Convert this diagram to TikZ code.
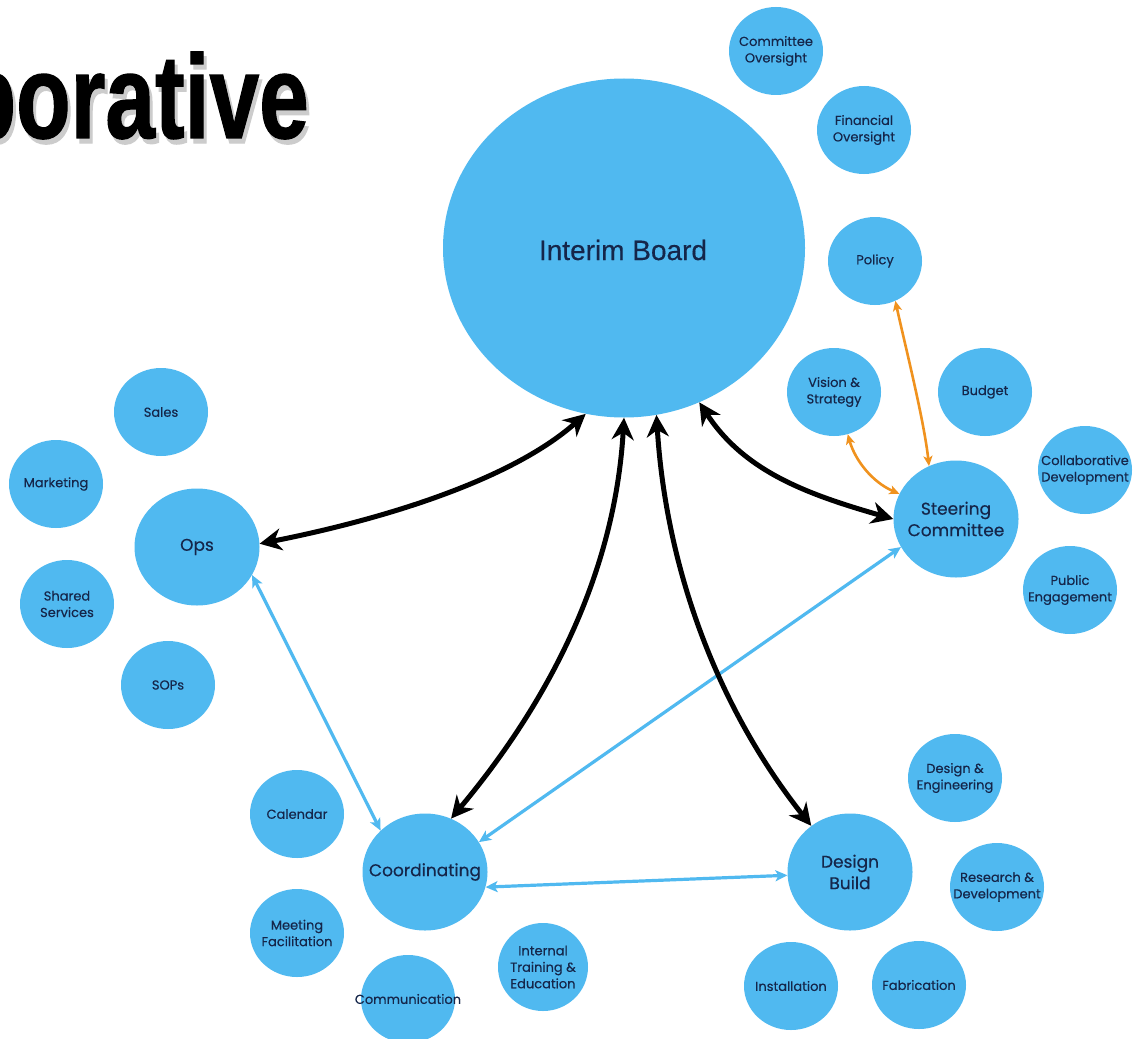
\documentclass[tikz,border=0pt]{standalone}
\usepackage{fontspec}
\setmainfont{Poppins}[FakeBold=0.35]
\newfontfamily\boardfont{Liberation Sans}[FakeBold=0.3]
\newfontfamily\titlefont{Liberation Sans Bold}[FakeBold=1.2]
\usetikzlibrary{shapes.geometric,arrows.meta}
\definecolor{bub}{HTML}{50B9F0}
\definecolor{ink}{HTML}{15264A}
\definecolor{org}{HTML}{F0921E}
\tikzset{
  sbub/.style={ellipse, fill=bub, minimum width=94pt, minimum height=88pt, inner sep=0pt},
  bbub/.style={ellipse, fill=bub, minimum width=125pt, minimum height=117pt, inner sep=0pt},
  slbl/.style={align=center, text=ink, inner sep=0pt, font=\fontsize{13}{16.5}\selectfont},
  blbl/.style={align=center, text=ink, inner sep=0pt, font=\fontsize{17}{21.5}\selectfont},
  blkarrow/.style={line width=5pt, black, {Stealth[length=22pt,width=22pt,inset=7pt]}-{Stealth[length=22pt,width=22pt,inset=7pt]}},
  bluearrow/.style={line width=3.2pt, bub, {Stealth[length=12pt,width=11pt,inset=3pt]}-{Stealth[length=12pt,width=11pt,inset=3pt]}},
  orgarrow/.style={line width=2.6pt, org, {Stealth[length=10pt,width=9pt,inset=2.5pt]}-{Stealth[length=10pt,width=9pt,inset=2.5pt]}},
  ttl/.style={anchor=base east, inner sep=0pt, font=\titlefont\fontsize{119}{119}\selectfont}
}
\begin{document}
\begin{tikzpicture}[x=1pt,y=-1pt]
\useasboundingbox (0,0) rectangle (1134,1038);
\clip (0,0) rectangle (1134,1038);
\fill[white] (0,0) rectangle (1134,1038);
% title
\node[ttl, text=black!20] (tsh) at (312,143) {\scalebox{0.75}[1]{borative}};
\node[ttl, text=black] (title) at (309,138) {\scalebox{0.75}[1]{borative}};
% main circles
\node[ellipse, fill=bub, minimum width=362pt, minimum height=339pt, inner sep=0pt] (board) at (624,248) {};
\node[text=ink, inner sep=0pt, font=\boardfont\fontsize{28}{32}\selectfont] (boardT) at (623,250) {Interim Board};
\node[bbub] (ops) at (197,547) {};
\node[blbl] (opsT) at (ops) {Ops};
\node[bbub] (steer) at (956,519) {};
\node[blbl] (steerT) at (steer) {Steering\\Committee};
\node[bbub] (coord) at (425,872) {};
\node[blbl] (coordT) at (coord) {Coordinating};
\node[bbub] (db) at (850,872) {};
\node[blbl] (dbT) at (db) {Design\\Build};
% small circles
\node[sbub] (cov) at (776,51) {};
\node[slbl] (covT) at (cov) {Committee\\Oversight};
\node[sbub] (fov) at (864,130) {};
\node[slbl] (fovT) at (fov) {Financial\\Oversight};
\node[sbub] (pol) at (875,261) {};
\node[slbl] (polT) at (pol) {Policy};
\node[sbub] (vis) at (834,392) {};
\node[slbl] (visT) at (vis) {Vision \&\\Strategy};
\node[sbub] (bud) at (985,392) {};
\node[slbl] (budT) at (bud) {Budget};
\node[sbub] (cdev) at (1085,470) {};
\node[slbl] (cdevT) at (cdev) {Collaborative\\Development};
\node[sbub] (pub) at (1070,590) {};
\node[slbl] (pubT) at (pub) {Public\\Engagement};
\node[sbub] (sal) at (161,412) {};
\node[slbl] (salT) at (sal) {Sales};
\node[sbub] (mkt) at (56,484) {};
\node[slbl] (mktT) at (mkt) {Marketing};
\node[sbub] (shs) at (67,604) {};
\node[slbl] (shsT) at (shs) {Shared\\Services};
\node[sbub] (sop) at (168,685) {};
\node[slbl] (sopT) at (sop) {SOPs};
\node[sbub] (cal) at (297,814) {};
\node[slbl] (calT) at (cal) {Calendar};
\node[sbub] (mtg) at (297,933) {};
\node[slbl] (mtgT) at (mtg) {Meeting\\Facilitation};
\node[sbub] (com) at (408,999) {};
\node[slbl] (comT) at (com) {Communication};
\node[sbub, minimum width=90pt] (itr) at (543,967) {};
\node[slbl] (itrT) at (itr) {Internal\\Training \&\\Education};
\node[sbub] (deng) at (955,778) {};
\node[slbl] (dengT) at (deng) {Design \&\\Engineering};
\node[sbub] (rnd) at (997,887) {};
\node[slbl] (rndT) at (rnd) {Research \&\\Development};
\node[sbub] (ins) at (791,986) {};
\node[slbl] (insT) at (ins) {Installation};
\node[sbub] (fab) at (919,985) {};
\node[slbl] (fabT) at (fab) {Fabrication};
% blue connectors
\draw[bluearrow] (ops.333) -- (coord.137);
\draw[bluearrow] (steer.207) -- (coord.29);
\draw[bluearrow] (coord.-14) -- (db.183);
% orange connectors
\draw[orgarrow] (pol.297) .. controls (905,345) and (924,420) .. (steer.117);
\draw[orgarrow] (vis.288) .. controls (855,460) and (872,482) .. (steer.156);
% black connectors
\draw[blkarrow] (ops.3) .. controls (380,520) and (510,481) .. (board.257);
\draw[blkarrow] (board.270) .. controls (615,570) and (552,698) .. (coord.64);
\draw[blkarrow] (board.281) .. controls (666,568) and (717,707) .. (db.130);
\draw[blkarrow] (board.296) .. controls (744,471) and (806,494) .. (steer.180);
\end{tikzpicture}
\end{document}
